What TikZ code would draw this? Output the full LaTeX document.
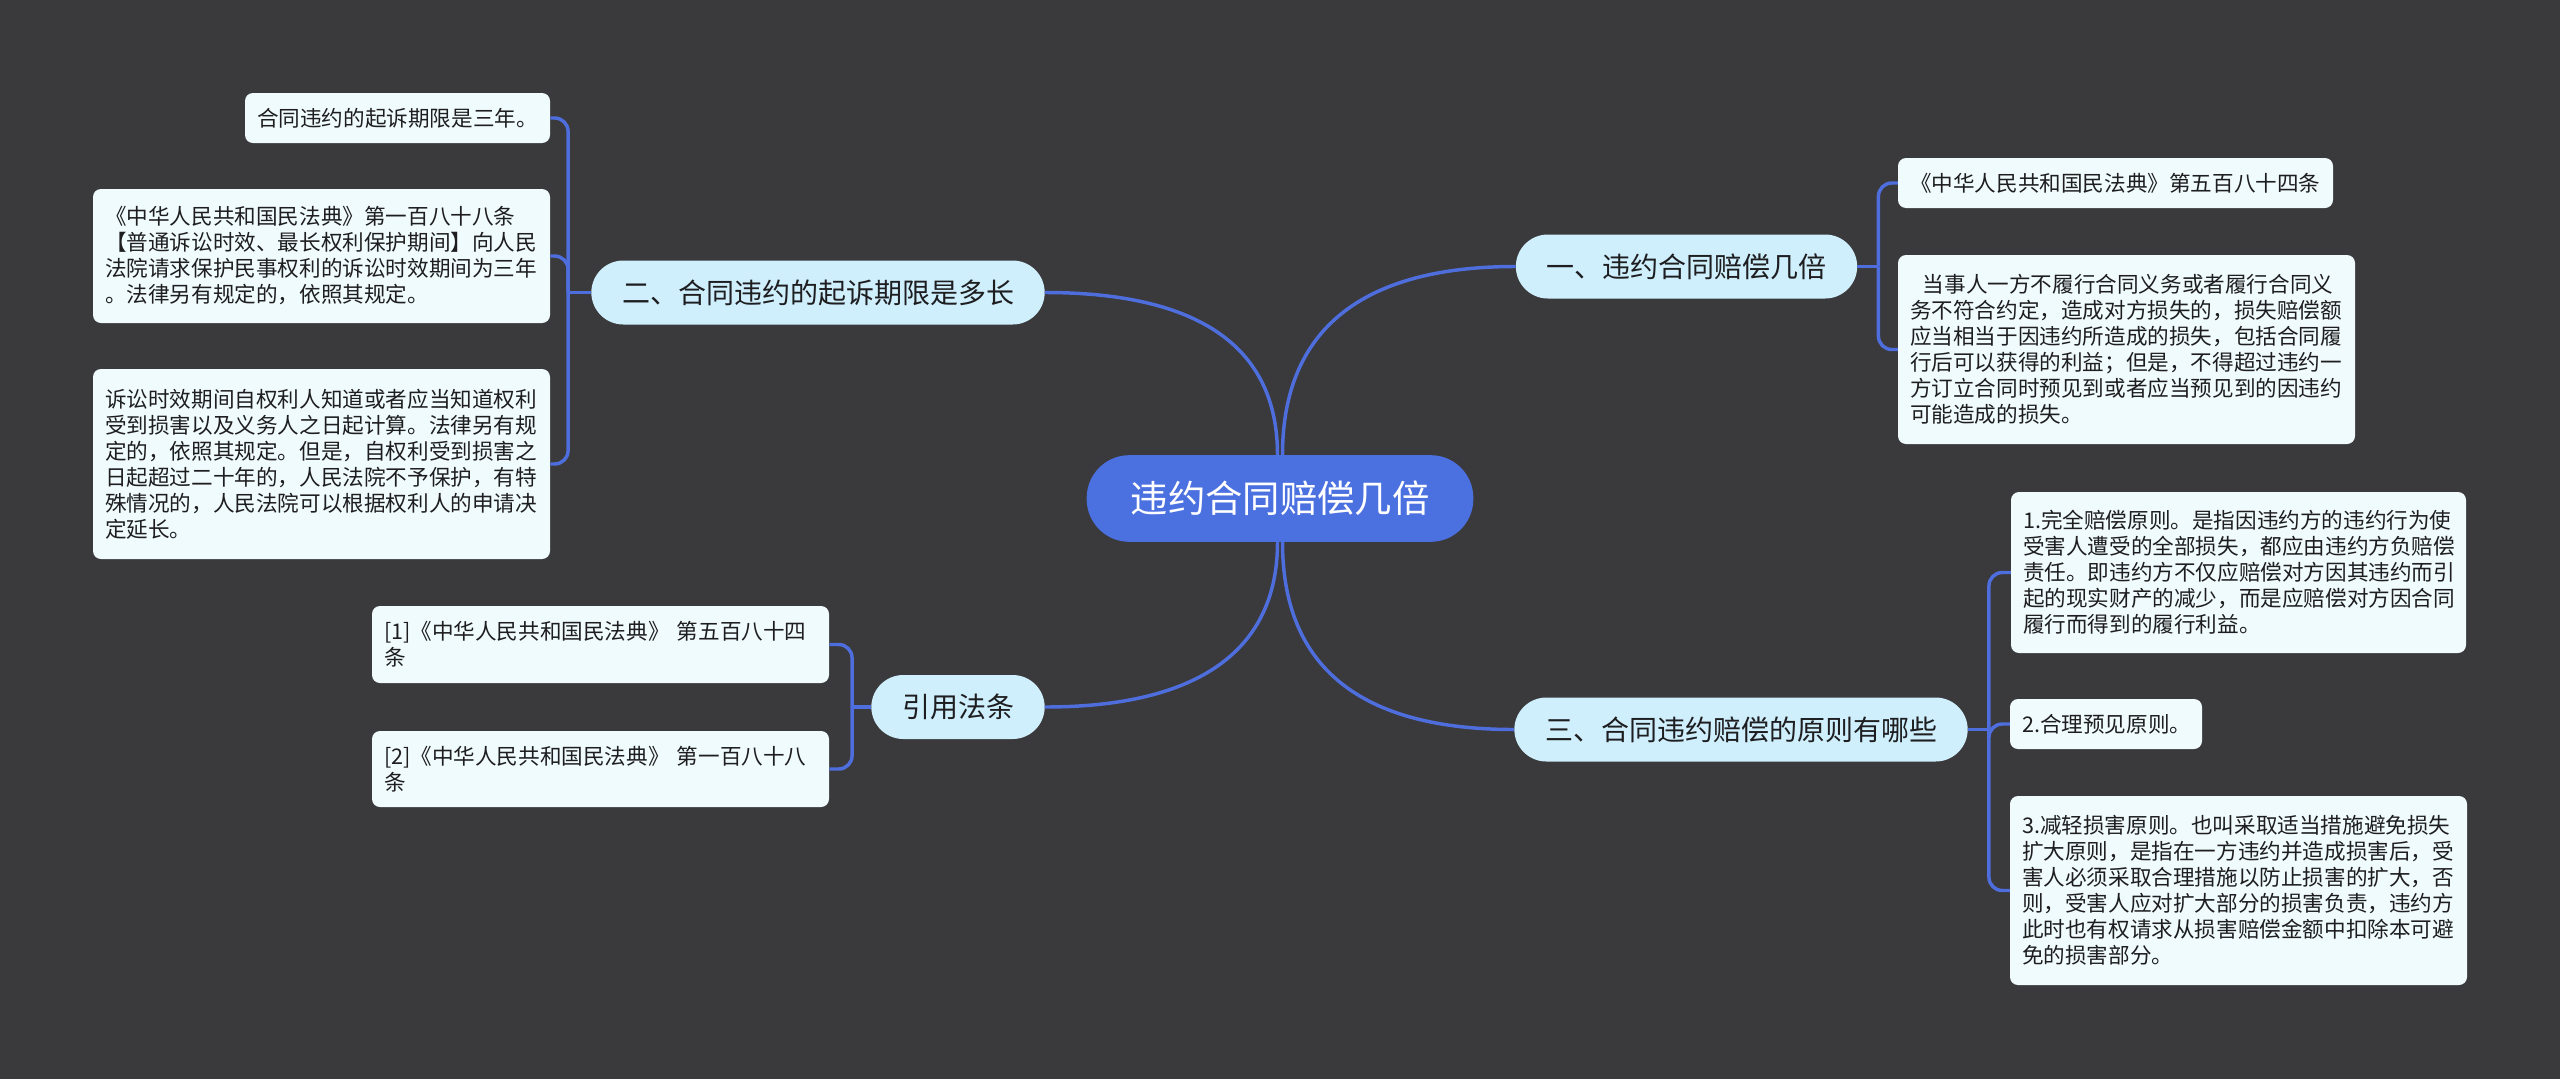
\documentclass[tikz,border=0pt]{standalone}
\usepackage{fontspec}
\setmainfont{Noto Sans CJK SC}
\usetikzlibrary{calc}
\definecolor{bgdark}{RGB}{58,57,59}
\definecolor{linkblue}{RGB}{78,110,222}
\definecolor{rootblue}{RGB}{75,112,224}
\definecolor{topicblue}{RGB}{207,239,253}
\definecolor{leafwhite}{RGB}{240,251,253}
\definecolor{textdark}{RGB}{30,30,32}

\begin{document}
\begin{tikzpicture}[x=0.75pt,y=0.75pt,yscale=-1,xscale=1,
	link/.style={draw=linkblue, line width=2.6pt},
	rootnode/.style={fill=rootblue, text=white, rounded corners=32pt, minimum height=65pt, inner xsep=33pt, font=\fontsize{28}{34}\selectfont},
	topic/.style={fill=topicblue, text=textdark, rounded corners=24pt, minimum height=48pt, inner xsep=23pt, font=\fontsize{21}{25}\selectfont},
	leaf/.style={fill=leafwhite, text=textdark, rounded corners=6pt, inner xsep=9pt, align=left, font=\fontsize{16.2}{19.5}\selectfont}]
		%set diagram size 2560 x 1079
		\useasboundingbox (0,0) rectangle (2560,1079);
		\fill[bgdark] (0,0) rectangle (2560,1079);
		
		% Root
		\node[rootnode] (root) at (1280,498.5) {违约合同赔偿几倍};
		
		% Topics
		\node[topic] (one) at (1686.5,266.5) {一、违约合同赔偿几倍};
		\node[topic] (two) at (818,292.5) {二、合同违约的起诉期限是多长};
		\node[topic] (three) at (1741,729.5) {三、合同违约赔偿的原则有哪些};
		\node[topic] (cite) at (958,707) {引用法条};
		
		% Leaves of topic one
		\node[leaf, text width=308.25pt, minimum height=37.5pt] (one1) at (2115.5,183) {《中华人民共和国民法典》第五百八十四条};
		\node[leaf, text width=324.75pt, minimum height=141.75pt] (one2) at (2126.5,349.5) {\hspace*{0.6em}当事人一方不履行合同义务或者履行合同义\\务不符合约定，造成对方损失的，损失赔偿额\\应当相当于因违约所造成的损失，包括合同履\\行后可以获得的利益；但是，不得超过违约一\\方订立合同时预见到或者应当预见到的因违约\\可能造成的损失。};
		
		% Leaves of topic two
		\node[leaf, text width=210.75pt, minimum height=37.5pt] (two1) at (397.5,118) {合同违约的起诉期限是三年。};
		\node[leaf, text width=324.75pt, minimum height=100.5pt] (two2) at (321.5,256) {《中华人民共和国民法典》第一百八十八条\\【普通诉讼时效、最长权利保护期间】向人民\\法院请求保护民事权利的诉讼时效期间为三年\\。法律另有规定的，依照其规定。};
		\node[leaf, text width=324.75pt, minimum height=142.5pt] (two3) at (321.5,464) {诉讼时效期间自权利人知道或者应当知道权利\\受到损害以及义务人之日起计算。法律另有规\\定的，依照其规定。但是，自权利受到损害之\\日起超过二十年的，人民法院不予保护，有特\\殊情况的，人民法院可以根据权利人的申请决\\定延长。};
		
		% Leaves of topic three
		\node[leaf, text width=323.25pt, minimum height=120.75pt] (three1) at (2238.5,572.5) {1.完全赔偿原则。是指因违约方的违约行为使\\受害人遭受的全部损失，都应由违约方负赔偿\\责任。即违约方不仅应赔偿对方因其违约而引\\起的现实财产的减少，而是应赔偿对方因合同\\履行而得到的履行利益。};
		\node[leaf, text width=126pt, minimum height=37.5pt] (three2) at (2106,724) {2.合理预见原则。};
		\node[leaf, text width=324.75pt, minimum height=141.75pt] (three3) at (2238.5,890.5) {3.减轻损害原则。也叫采取适当措施避免损失\\扩大原则，是指在一方违约并造成损害后，受\\害人必须采取合理措施以防止损害的扩大，否\\则，受害人应对扩大部分的损害负责，违约方\\此时也有权请求从损害赔偿金额中扣除本可避\\免的损害部分。};
		
		% Leaves of citations
		\node[leaf, text width=324.75pt, minimum height=57.75pt] (cite1) at (600.5,644.5) {[1]《中华人民共和国民法典》 第五百八十四\\条};
		\node[leaf, text width=324.75pt, minimum height=57pt] (cite2) at (600.5,769) {[2]《中华人民共和国民法典》 第一百八十八\\条};
		
		% Root to topics
		\draw[link] ($(root.north)+(2.5,0)$) .. controls ($(root.north)+(2.5,-125)$) and ($(one.west)+(-154,0)$) .. (one.west);
		\draw[link] ($(root.north)+(-2.5,0)$) .. controls ($(root.north)+(-2.5,-108)$) and ($(two.east)+(154,0)$) .. (two.east);
		\draw[link] ($(root.south)+(2.5,0)$) .. controls ($(root.south)+(2.5,125)$) and ($(three.west)+(-154,0)$) .. (three.west);
		\draw[link] ($(root.south)+(-2.5,0)$) .. controls ($(root.south)+(-2.5,108)$) and ($(cite.east)+(154,0)$) .. (cite.east);
		
		% Topics to leaves
		\coordinate (oneT) at ($(one.east)+(21,0)$);
		\coordinate (twoT) at ($(two.west)+(-23,0)$);
		\coordinate (threeT) at ($(three.east)+(21,0)$);
		\coordinate (citeT) at ($(cite.west)+(-19,0)$);
		\draw[link] (one.east) -- (oneT);
		\draw[link] (two.west) -- (twoT);
		\draw[link] (three.east) -- (threeT);
		\draw[link] (cite.west) -- (citeT);
		\foreach \leafname in {one1,one2}
			\draw[link, rounded corners=10pt] (oneT) |- (\leafname.west);
		\foreach \leafname in {two1,two2,two3}
			\draw[link, rounded corners=10pt] (twoT) |- (\leafname.east);
		\foreach \leafname in {three1,three2,three3}
			\draw[link, rounded corners=10pt] (threeT) |- (\leafname.west);
		\foreach \leafname in {cite1,cite2}
			\draw[link, rounded corners=10pt] (citeT) |- (\leafname.east);
		
	\end{tikzpicture}
\end{document}
